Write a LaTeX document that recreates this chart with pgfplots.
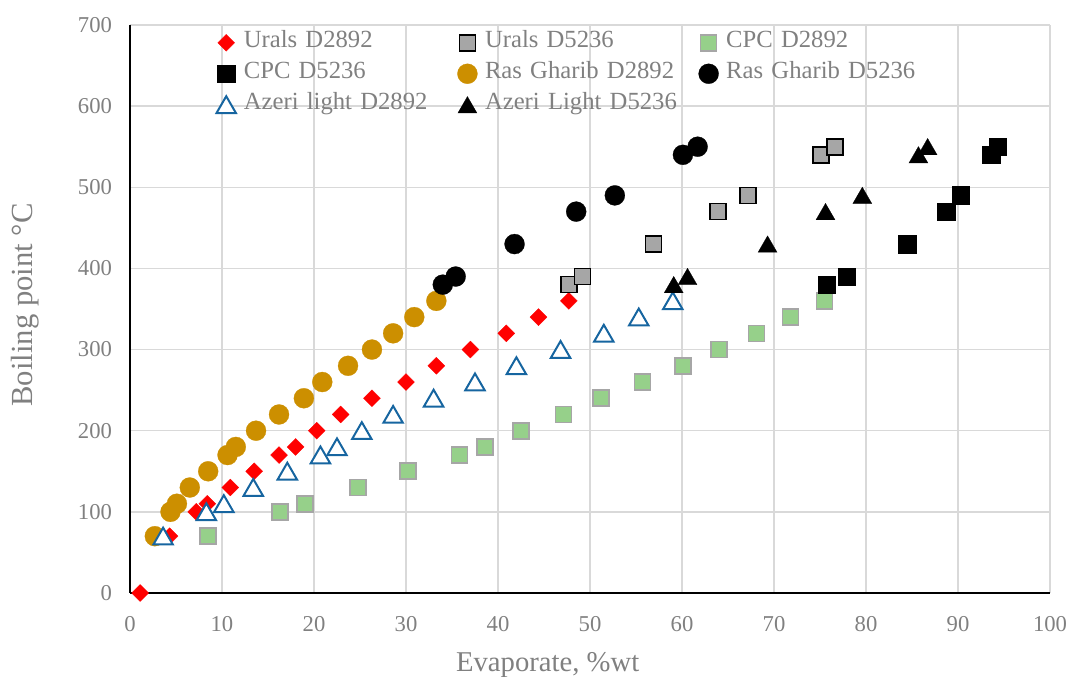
\documentclass[border=0pt]{standalone}
\usepackage{fontspec}
\setmainfont{Liberation Serif}
\usepackage{pgfplots}
\pgfplotsset{compat=1.18}
\definecolor{txtgray}{RGB}{128,128,128}
\definecolor{gridgray}{RGB}{217,217,217}
\definecolor{sqgray}{RGB}{166,166,166}
\definecolor{sqgreen}{RGB}{150,208,138}
\definecolor{rgorange}{RGB}{204,143,0}
\definecolor{azblue}{RGB}{22,101,160}
\begin{document}
\begin{tikzpicture}
\begin{axis}[
  scale only axis, width=690pt, height=426pt,
  xmin=0, xmax=100, ymin=0, ymax=700,
  xtick={0,10,...,100}, ytick={0,100,...,700},
  axis lines=left,
  axis line style={-, black, line width=1.6pt},
  grid=major,
  major grid style={gridgray, line width=1.1pt},
  major tick length=0pt,
  tick label style={font=\fontsize{17}{20}\selectfont, text=txtgray},
  /pgf/number format/assume math mode=true,
  xticklabel style={yshift=-14pt},
  yticklabel style={xshift=-10pt},
  xlabel={Evaporate, \%wt},
  ylabel={Boiling point °C},
  label style={text=txtgray, inner sep=0pt},
  xlabel style={font=\fontsize{21.5}{25}\selectfont, at={(axis description cs:0.454,-0.139)}, anchor=base},
  ylabel style={font=\fontsize{23}{26}\selectfont, at={(axis description cs:-0.1065,0.507)}, anchor=base},
  legend columns=3,
  legend cell align=left,
  legend style={at={(axis description cs:0.092,0.996)}, anchor=north west,
    draw=none, fill=none, inner sep=0pt, outer sep=0pt,
    font=\fontsize{18.5}{22}\selectfont, text=txtgray,
    nodes={text width=157pt, text height=13.5pt, text depth=5.75pt, inner xsep=2pt, inner ysep=2pt, align=left},
    /tikz/every odd column/.append style={column sep=2.5pt},
    /tikz/every even column/.append style={column sep=0pt},
    row sep=0pt},
  legend image code/.code={\path (0pt,-1pt) (17pt,1pt);
    \draw[mark repeat=2,mark phase=2] plot coordinates {(0pt,0pt) (8.5pt,0pt) (17pt,0pt)};},
]
% Urals D2892
\addplot[only marks, mark=square*, mark size=4.5pt, mark options={rotate=45, fill=red, draw=red, line width=0.2pt}] coordinates {
(1.1,0) (4.3,70) (7.2,100) (8.4,110) (10.9,130) (13.5,150) (16.2,170) (18.0,180) (20.3,200) (22.9,220) (26.3,240) (30.0,260) (33.3,280) (37.0,300) (40.9,320) (44.4,340) (47.7,360)};
\addlegendentry{Urals D2892}
% Urals D5236
\addplot[only marks, mark=square*, mark size=6pt, mark options={fill=sqgray, draw=black, line width=1.2pt}] coordinates {
(47.7,380) (49.2,390) (56.9,430) (63.9,470) (67.2,490) (75.1,540) (76.6,550)};
\addlegendentry{Urals D5236}
% CPC D2892
\addplot[only marks, mark=square*, mark size=6pt, mark options={fill=sqgreen, draw=sqgray, line width=1.2pt}] coordinates {
(8.5,70) (16.3,100) (19.0,110) (24.8,130) (30.2,150) (35.8,170) (38.6,180) (42.5,200) (47.1,220) (51.2,240) (55.7,260) (60.1,280) (64.0,300) (68.1,320) (71.8,340) (75.5,360)};
\addlegendentry{CPC D2892}
% CPC D5236
\addplot[only marks, mark=square*, mark size=6.6pt, mark options={fill=black, draw=black, line width=0.2pt}] coordinates {
(75.7,380) (77.9,390) (84.5,430) (88.7,470) (90.3,490) (93.6,540) (94.3,550)};
\addlegendentry{CPC D5236}
% Ras Gharib D2892
\addplot[only marks, mark=*, mark size=7.5pt, mark options={fill=rgorange, draw=rgorange, line width=0.2pt}] coordinates {
(2.7,70) (4.4,100) (5.1,110) (6.5,130) (8.5,150) (10.6,170) (11.5,180) (13.7,200) (16.2,220) (18.9,240) (20.9,260) (23.7,280) (26.3,300) (28.6,320) (30.9,340) (33.3,360)};
\addlegendentry{Ras Gharib D2892}
% Ras Gharib D5236
\addplot[only marks, mark=*, mark size=7.5pt, mark options={fill=black, draw=black, line width=0.2pt}] coordinates {
(34.0,380) (35.4,390) (41.8,430) (48.5,470) (52.7,490) (60.1,540) (61.7,550)};
\addlegendentry{Ras Gharib D5236}
% Azeri light D2892
\addplot[only marks, mark=triangle*, mark size=8.4pt, mark options={fill=white, draw=azblue, line width=1.5pt, yshift=-2pt}] coordinates {
(3.6,70) (8.3,100) (10.2,110) (13.4,130) (17.1,150) (20.7,170) (22.5,180) (25.2,200) (28.6,220) (33.0,240) (37.5,260) (42.0,280) (46.8,300) (51.5,320) (55.3,340) (59.0,360)};
\addlegendentry{Azeri light D2892}
% Azeri Light D5236
\addplot[only marks, mark=triangle*, mark size=8.2pt, mark options={fill=black, draw=black, line width=0.2pt, yshift=-2pt}] coordinates {
(59.1,380) (60.6,390) (69.3,430) (75.6,470) (79.6,490) (85.7,540) (86.7,550)};
\addlegendentry{Azeri Light D5236}
\end{axis}
\pgfresetboundingbox
\path ([xshift=-97.5pt,yshift=-63pt]current axis.south west) rectangle ([xshift=18pt,yshift=18.75pt]current axis.north east);
\end{tikzpicture}
\end{document}
